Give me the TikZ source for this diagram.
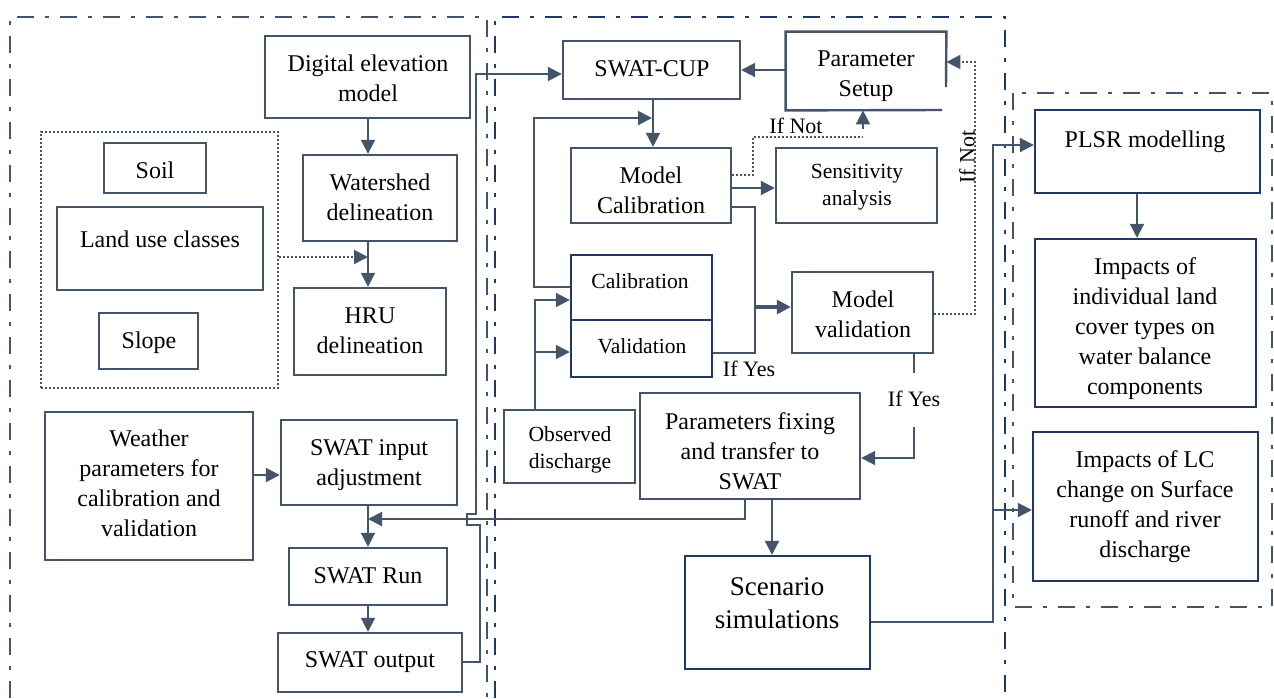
\documentclass[tikz,border=0pt]{standalone}
\usepackage{fontspec}
\setmainfont{Liberation Serif}
\usetikzlibrary{arrows.meta,fit,calc}
\definecolor{slate}{HTML}{44546A}
\definecolor{navy}{HTML}{1F3864}
\newcommand\mkbox[6][box]{\coordinate (#2-a) at (#3,#4);\coordinate (#2-b) at (#5,#6);\node[#1,fit=(#2-a)(#2-b)] (#2) {};}
\begin{document}
\begin{tikzpicture}[x=0.5pt,y=-0.5pt,
  box/.style={draw=slate,line width=1.2pt,inner sep=0pt},
  nbox/.style={draw=navy,line width=1.2pt,inner sep=0pt},
  grpbox/.style={draw=slate,line width=1pt,dash pattern=on 1pt off 1pt,inner sep=0pt},
  boxline/.style={draw=slate,line width=1.2pt},
  txt/.style={align=center,font=\fontsize{12}{15}\selectfont,inner sep=0pt},
  stxt/.style={align=center,font=\fontsize{10.8}{13.5}\selectfont,inner sep=0pt},
  btxt/.style={align=center,font=\fontsize{13.5}{16.5}\selectfont,inner sep=0pt},
  lab/.style={font=\fontsize{11}{13}\selectfont,inner sep=0pt},
  arr/.style={draw=slate,line width=1pt,-{Triangle[length=7pt,width=7pt]}},
  ln/.style={draw=slate,line width=1pt},
  dln/.style={draw=slate,line width=1pt,dash pattern=on 1pt off 1pt},
  dotarr/.style={draw=slate,line width=1pt,dash pattern=on 1pt off 1pt,-{Triangle[length=7pt,width=7pt]}},
  pl/.style={draw=slate,line width=1.4pt,dash pattern=on 8.5pt off 5.5pt on 2pt off 5.5pt},
  pm/.style={draw=navy,line width=1.4pt,dash pattern=on 8.5pt off 5.5pt on 2pt off 5.5pt}]
\useasboundingbox (0,0) rectangle (1274,698);
% panels
\draw[pl] (10,698) -- (10,17) -- (487,17) -- (487,698);
\draw[pm] (495,698) -- (495,17) -- (1005,17) -- (1005,698);
\draw[pl] (1013,93) rectangle (1272,607);
% boxes
\mkbox{dem}{265}{36}{470}{118}
\mkbox{ws}{303}{155}{457}{241}
\mkbox{hru}{294}{288}{446}{375}
\mkbox[grpbox]{grp}{41}{132}{278}{388}
\mkbox{soil}{104}{143}{206}{193}
\mkbox{land}{57}{207}{263}{290}
\mkbox{slope}{99}{313}{198}{369}
\mkbox{wea}{45}{412}{253}{560}
\mkbox{inp}{281}{420}{457}{505}
\mkbox{run}{289}{548}{447}{605}
\mkbox{out}{278}{633}{462}{692}
\mkbox{cup}{563}{41}{740}{99}
\coordinate (ps-a) at (786,32);\coordinate (ps-b) at (946,110);
\node[inner sep=0pt,fit=(ps-a)(ps-b)] (ps) {};
\draw[boxline] (946,87) -- (ps.north east) -- (ps.north west) -- (ps.south west) -- (942,110);
\mkbox{mc}{571}{148}{731}{223}
\mkbox{sens}{776}{148}{937}{223}
\mkbox[nbox]{cal}{571}{255}{712}{320}
\mkbox[nbox]{val}{571}{320}{712}{377}
\mkbox{mv}{792}{272}{933}{353}
\mkbox{obs}{504}{410}{635}{483}
\mkbox{pf}{640}{393}{860}{499}
\mkbox[nbox]{sc}{685}{556}{870}{669}
\mkbox[nbox]{plsr}{1035}{110}{1260}{193}
\mkbox[nbox]{imp}{1035}{239}{1256}{407}
\mkbox[nbox]{lc}{1033}{432}{1258}{581}
% texts
\node[txt] (t-dem) at (368,78) {Digital elevation\\model};
\node[txt] (t-ws) at (380,197) {Watershed\\delineation};
\node[txt] (t-hru) at (370,331) {HRU\\delineation};
\node[txt] (t-soil) at (155,170) {Soil};
\node[txt] (t-land) at (160,239) {Land use classes};
\node[txt] (t-slope) at (149,343) {Slope};
\node[txt] (t-wea) at (149,483) {Weather\\parameters for\\calibration and\\validation};
\node[txt] (t-inp) at (369,465) {SWAT input\\adjustment};
\node[txt] (t-run) at (368,576) {SWAT Run};
\node[txt] (t-out) at (370,662) {SWAT output};
\node[txt] (t-cup) at (652,69) {SWAT-CUP};
\node[txt] (t-ps) at (866,76) {Parameter\\Setup};
\node[txt] (t-mc) at (651,190) {Model\\Calibration};
\node[stxt] (t-sens) at (857,187) {Sensitivity\\analysis};
\node[stxt] (t-cal) at (640,281) {Calibration};
\node[stxt] (t-val) at (642,346) {Validation};
\node[txt] (t-mv) at (863,314) {Model\\validation};
\node[stxt] (t-obs) at (570,450) {Observed\\discharge};
\node[txt] (t-pf) at (750,451) {Parameters fixing\\and transfer to\\SWAT};
\node[btxt] (t-sc) at (777,603) {Scenario\\simulations};
\node[txt] (t-plsr) at (1145,142) {PLSR modelling};
\node[txt] (t-imp) at (1145,329) {Impacts of\\individual land\\cover types on\\water balance\\components};
\node[txt] (t-lc) at (1145,507) {Impacts of LC\\change on Surface\\runoff and river\\discharge};
% labels
\node[lab] (l-n1) at (796,126) {If Not};
\node[lab,rotate=90] (l-n2) at (967,157) {If Not};
\node[lab] (l-y1) at (749,369) {If Yes};
\node[lab] (l-y2) at (914,399) {If Yes};
% connectors
\coordinate (xa) at (368,0);
\draw[arr] (dem.south -| xa) -- (ws.north -| xa);
\draw[arr] (ws.south -| xa) -- (hru.north -| xa);
\draw[dotarr] (grp.east |- 0,257) -- (xa |- 0,257);
\draw[arr] (wea.east |- 0,475) -- (inp.west |- 0,475);
\draw[arr] (inp.south -| xa) -- (run.north -| xa);
\draw[arr] (run.south -| xa) -- (out.north -| xa);
\draw[arr] (out.east |- 0,662) -- (480,662) -- (480,525) -- (467,525) -- (467,514) -- (476,514) -- (476,74) -- (cup.west |- 0,74);
\draw[arr] (pf.south -| 745,0) -- (745,519) -- (xa |- 0,519);
\draw[arr] (ps.west |- 0,70) -- (cup.east |- 0,70);
\draw[arr] (cup.south -| 653,0) -- (mc.north -| 653,0);
\draw[arr] (cal.west |- 0,287) -- (534,287) -- (534,118) -- (652,118);
\draw[arr] (mc.east |- 0,188) -- (sens.west |- 0,188);
\draw[dln] (mc.east |- 0,175) -- (753,175) -- (753,137) -- (863,137);
\draw[arr] (863,129) -- (ps.south -| 863,0);
\draw[ln] (mc.east |- 0,207) -- (755,207) -- (755,353) -- (val.east |- 0,353);
\draw[arr,line width=1.6pt] (755,307) -- (mv.west |- 0,307);
\draw[arr] (obs.north -| 535,0) -- (535,300) -- (cal.west |- 0,300);
\draw[arr] (535,352) -- (val.west |- 0,352);
\draw[dotarr] (mv.east |- 0,314) -- (975,314) -- (975,62) -- (ps.east |- 0,62);
\draw[ln] (mv.south -| 914,0) -- (914,373);
\draw[arr] (914,427) -- (914,458) -- (pf.east |- 0,458);
\draw[arr] (pf.south -| 772,0) -- (sc.north -| 772,0);
\draw[arr] (sc.east |- 0,622) -- (993,622) -- (993,145) -- (plsr.west |- 0,145);
\draw[arr] (993,510) -- (lc.west |- 0,510);
\draw[arr] (plsr.south -| 1137,0) -- (imp.north -| 1137,0);
\end{tikzpicture}
\end{document}
